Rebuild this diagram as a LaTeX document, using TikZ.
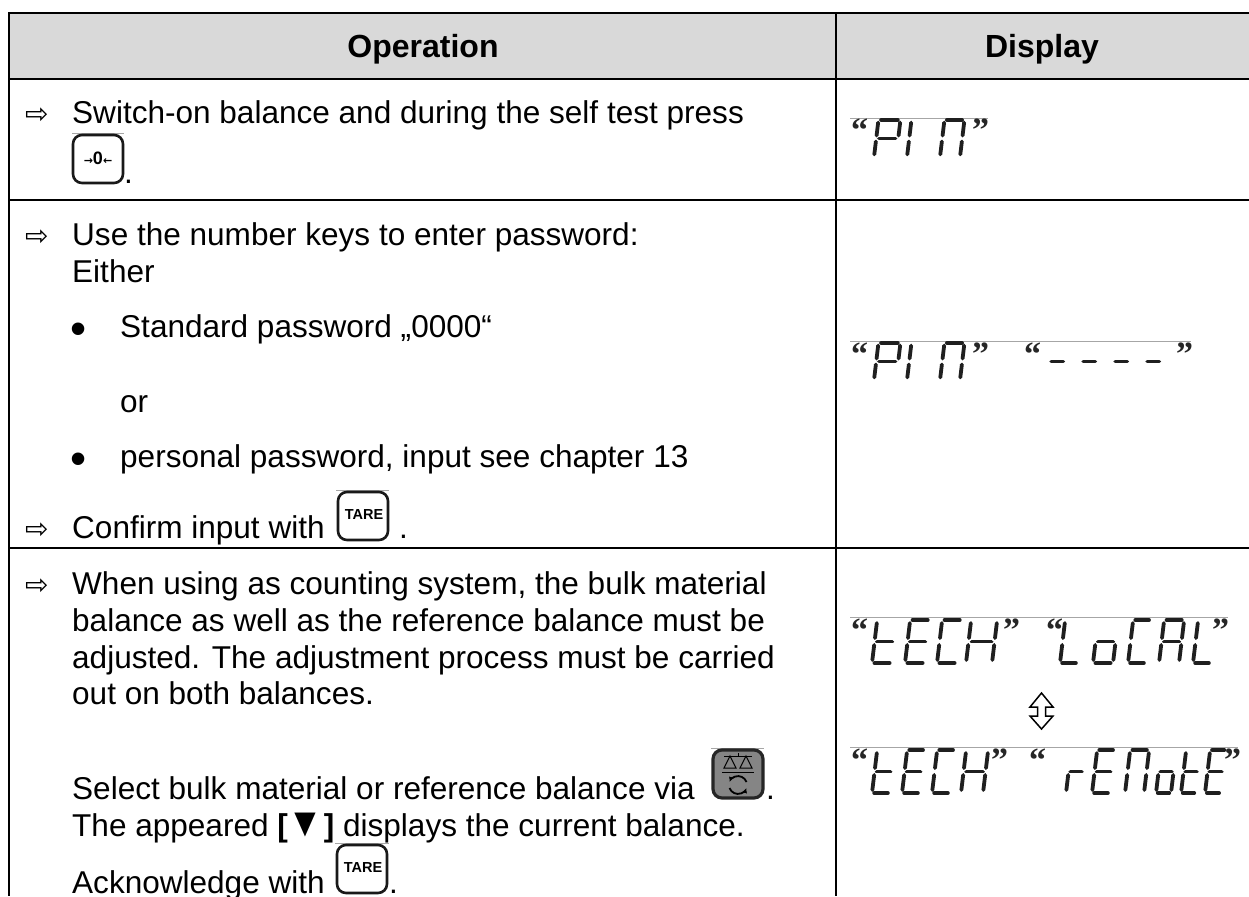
\documentclass[tikz,border=0pt]{standalone}
\usepackage{fontspec}
\usetikzlibrary{arrows.meta}
\setmainfont{Liberation Sans}
\newfontfamily\djv{DejaVu Sans}
\newfontfamily\qserif{Liberation Serif}
\definecolor{headgrey}{HTML}{D9D9D9}
\tikzset{
  rule/.style={line width=2pt,black},
  txt/.style={anchor=base west,inner sep=0pt,font=\fontsize{31.55}{36}\selectfont},
  bullettxt/.style={anchor=base west,inner sep=0pt,font=\fontsize{46}{46}\selectfont},
  headtxt/.style={anchor=base,inner sep=0pt,font=\bfseries\fontsize{32}{36}\selectfont},
  arrowtxt/.style={anchor=base west,inner sep=0pt,font=\djv\fontsize{28}{30}\selectfont},
  lcdseg/.style={line width=3.8pt,line cap=round,black!88},
  quotetxt/.style={anchor=base west,inner sep=0pt,font=\qserif\bfseries\fontsize{34}{40}\selectfont,black!85},
  thinline/.style={line width=0.8pt,black!35},
  keybox/.style={line width=2.6pt,rounded corners=9pt,black!90},
  keytxt/.style={inner sep=0pt,font=\bfseries\fontsize{14.5}{15}\selectfont}
}
\newcommand\ssa{\draw[lcdseg] (.12,1)--(.88,1);}
\newcommand\ssb{\draw[lcdseg] (1,.93)--(1,.58);}
\newcommand\ssc{\draw[lcdseg] (1,.42)--(1,.07);}
\newcommand\ssd{\draw[lcdseg] (.12,0)--(.88,0);}
\newcommand\sse{\draw[lcdseg] (0,.42)--(0,.07);}
\newcommand\ssf{\draw[lcdseg] (0,.93)--(0,.58);}
\newcommand\ssg{\draw[lcdseg] (.12,.5)--(.88,.5);}
% x, baseline y (image px), width, height, segments
\newcommand\lcdchar[5]{%
  \begin{scope}[shift={(#1,#2)},x={(#3pt,0pt)},y={(.12*#4pt,#4pt)}]
    \foreach \s in {#5}{\csname ss\s\endcsname}
  \end{scope}}
\begin{document}
\begin{tikzpicture}[x=1pt,y=-1pt]
\useasboundingbox (0,0) rectangle (1249,896);
\fill[white] (0,0) rectangle (1249,896);
% table
\fill[headgrey] (9,13) rectangle (1249,79);
\draw[rule] (1249,13) -- (9,13) -- (9,896);
\draw[rule] (836,13) -- (836,896);
\draw[rule] (9,79) -- (1249,79);
\draw[rule] (9,200) -- (1249,200);
\draw[rule] (9,548) -- (1249,548);
\node[headtxt] (hop) at (423,58) {Operation};
\node[headtxt] (hdi) at (1042,58) {Display};
% row 1
\node[arrowtxt] (a1) at (25,124) {⇨};
\node[txt] (t1) at (72,124) {Switch-on balance and during the self test press};
\draw[thinline] (72,133) -- (124,133);
\draw[keybox] (73,135) rectangle (123,183);
\node[keytxt] (k1) at (98,158) {{\djv\bfseries\fontsize{11}{12}\selectfont →}\fontsize{18}{18}\selectfont 0{\djv\bfseries\fontsize{11}{12}\selectfont ←}};
\node[txt] (t1b) at (124,184) {.};
% row 2
\node[arrowtxt] (a2) at (25,245) {⇨};
\node[txt] (t2) at (72,245) {Use the number keys to enter password:};
\node[txt] (t3) at (72,282) {Either};
\node[bullettxt] (b1) at (70,344) {•};
\node[txt] (t4) at (120,337) {Standard password „0000“};
\node[txt] (t5) at (120,412) {or};
\node[bullettxt] (b2) at (70,474) {•};
\node[txt] (t6) at (120,467) {personal password, input see chapter 13};
\node[arrowtxt] (a3) at (25,538) {⇨};
\node[txt] (t7) at (72,538) {Confirm input with};
\draw[thinline] (336,490) -- (389,490);
\draw[keybox] (338,492) rectangle (388,540);
\node[keytxt] (k2) at (364,515) {TARE};
\node[txt] (t7b) at (399,538) {.};
% row 3
\node[arrowtxt] (a4) at (25,594) {⇨};
\node[txt] (t8) at (72,594) {When using as counting system, the bulk material};
\node[txt] (t9) at (72,631) {balance as well as the reference balance must be};
\node[txt] (t10) at (72,668) {adjusted. The adjustment process must be carried};
\node[txt] (t11) at (72,704) {out on both balances.};
\node[txt] (t12) at (72,799) {Select bulk material or reference balance via};
\draw[thinline] (711,748) -- (764,748);
\draw[line width=3.2pt,rounded corners=9pt,black!85,fill=black!48] (713,750) rectangle (763,798);
% balance icon
\draw[line width=1pt,black] (724,756) -- (752,756) (738,753) -- (738,756);
\draw[line width=1pt,black] (730,756) -- (724,768) -- (736,768) -- cycle;
\draw[line width=1pt,black] (746,756) -- (740,768) -- (752,768) -- cycle;
\draw[line width=1.8pt,black] (722,772.5) -- (754,772.5);
\draw[line width=1.8pt,black,-{Latex[length=5pt,width=5pt]}] (746.5,782) arc[start angle=20,end angle=160,radius=9pt];
\draw[line width=1.8pt,black,-{Latex[length=5pt,width=5pt]}] (729.5,788) arc[start angle=200,end angle=340,radius=9pt];
\node[txt] (t12b) at (766,799) {.};
\node[txt] (t13) at (72,836) {The appeared \textbf{[\scalebox{1.15}[1.3]{▼}]} displays the current balance.};
\node[txt] (t14) at (72,893) {Acknowledge with};
\draw[thinline] (335,843) -- (389,843);
\draw[keybox] (337,845) rectangle (387,893);
\node[keytxt] (k3) at (363,868) {TARE};
\node[txt] (t14b) at (389,893) {.};
% display 1
\draw[thinline] (850,118) -- (988,118);
\node[quotetxt] (q1) at (851,142) {“};
\lcdchar{874}{157}{22}{37}{a,b,e,f,g}
\lcdchar{907}{157}{0}{37}{b,c}
\lcdchar{940}{157}{20}{37}{a,b,c,e,f}
\node[quotetxt] (q2) at (972,142) {”};
% display 2
\draw[thinline] (850,341) -- (1191,341);
\node[quotetxt] (q3) at (851,365) {“};
\lcdchar{874}{380}{22}{37}{a,b,e,f,g}
\lcdchar{907}{380}{0}{37}{b,c}
\lcdchar{940}{380}{20}{37}{a,b,c,e,f}
\node[quotetxt] (q4) at (972,365) {”};
\node[quotetxt] (q5) at (1024,365) {“};
\lcdchar{1047}{380}{16}{37}{g}
\lcdchar{1079}{380}{16}{37}{g}
\lcdchar{1111}{380}{16}{37}{g}
\lcdchar{1143}{380}{16}{37}{g}
\node[quotetxt] (q6) at (1176,365) {”};
% display 3
\draw[thinline] (850,617) -- (1228,617);
\node[quotetxt] (q7) at (851,641) {“};
\lcdchar{872}{663}{20}{43}{d,e,f,g}
\lcdchar{905}{663}{20}{43}{a,d,e,f,g}
\lcdchar{937}{663}{20}{43}{a,d,e,f}
\lcdchar{966}{663}{26}{43}{b,c,e,f,g}
\node[quotetxt] (q8) at (1003,641) {”};
\node[quotetxt] (q9) at (1046,641) {“};
\lcdchar{1060}{663}{18}{43}{d,e,f}
\lcdchar{1093}{663}{20}{43}{c,d,e,g}
\lcdchar{1128}{663}{18}{43}{a,d,e,f}
\lcdchar{1159}{663}{20}{43}{a,b,c,e,f,g}
\lcdchar{1193}{663}{18}{43}{d,e,f}
\node[quotetxt] (q10) at (1212,641) {”};
% double arrow
\draw[line width=1.5pt,black,fill=white,line join=miter]
  (1041.5,693) -- (1053,707) -- (1045.5,707) -- (1045.5,716) -- (1053,716) -- (1041.5,729)
  -- (1030,716) -- (1037.5,716) -- (1037.5,707) -- (1030,707) -- cycle;
% display 4
\draw[thinline] (850,747) -- (1238,747);
\node[quotetxt] (q11) at (851,771) {“};
\lcdchar{872}{793}{18}{43}{d,e,f,g}
\lcdchar{902}{793}{18}{43}{a,d,e,f,g}
\lcdchar{932}{793}{18}{43}{a,d,e,f}
\lcdchar{961}{793}{22}{43}{b,c,e,f,g}
\node[quotetxt] (q12) at (991,771) {”};
\node[quotetxt] (q13) at (1029,771) {“};
\lcdchar{1066}{793}{15}{43}{e,g}
\lcdchar{1092}{793}{18}{43}{a,d,e,f,g}
\lcdchar{1125}{793}{19}{43}{a,b,c,e,f}
\lcdchar{1156}{793}{15}{43}{c,d,e,g}
\lcdchar{1181}{793}{15}{43}{d,e,f,g}
\lcdchar{1205}{793}{16}{43}{a,d,e,f,g}
\node[quotetxt] (q14) at (1224,771) {”};
\end{tikzpicture}
\end{document}
